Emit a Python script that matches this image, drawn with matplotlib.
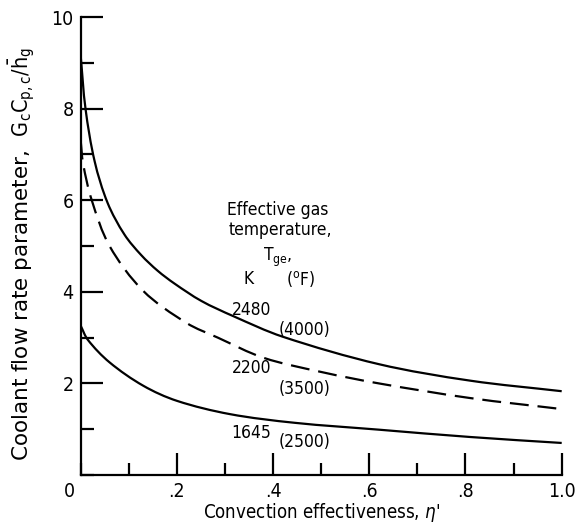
import matplotlib
matplotlib.use("Agg")
import matplotlib.pyplot as plt
import numpy as np
from matplotlib.path import Path
from matplotlib.patches import PathPatch
from matplotlib.ticker import MultipleLocator, FixedLocator

plt.rcParams['font.family'] = ['DejaVu Sans']
plt.rcParams['font.stretch'] = 'condensed'
plt.rcParams['mathtext.fontset'] = 'custom'
plt.rcParams['mathtext.rm'] = 'DejaVu Sans:stretch=condensed'
plt.rcParams['mathtext.it'] = 'DejaVu Sans:italic:stretch=condensed'

# Coolant flow rate parameter vs convection effectiveness, per gas temperature
eta_2480 = [0.0, 0.01, 0.029, 0.056, 0.091, 0.126, 0.16, 0.195, 0.251, 0.317,
            0.42, 0.62, 0.81, 1.0]
g_2480 = [9.15, 8.0, 6.85, 5.94, 5.25, 4.80, 4.46, 4.18, 3.80, 3.47,
          3.02, 2.42, 2.06, 1.83]

eta_2200 = [0.0, 0.005, 0.023, 0.06, 0.13, 0.22, 0.285, 0.38, 0.5,
            0.62, 0.81, 1.0]
g_2200 = [7.3, 6.8, 6.0, 5.0, 4.02, 3.32, 3.0, 2.56, 2.25,
          2.0, 1.68, 1.44]

eta_1645 = [0.0, 0.015, 0.06, 0.13, 0.2, 0.31, 0.445, 0.62, 0.81, 1.0]
g_1645 = [3.26, 2.95, 2.46, 1.95, 1.62, 1.33, 1.14, 0.99, 0.83, 0.70]

temps_k = ['2480', '2200', '1645']
temps_f = ['(4000)', '(3500)', '(2500)']

x_ticks = [0.2, 0.4, 0.6, 0.8, 1.0]
x_ticklabels = ['.2', '.4', '.6', '.8', '1.0']
y_ticks = [2, 4, 6, 8, 10]
y_ticklabels = ['2', '4', '6', '8', '10']


def smooth_curve(ax, xs, ys, **kw):
    """Draw a smooth bezier curve through the given points (in data units)."""
    p = ax.transData.transform(np.column_stack([xs, ys]))
    t = np.concatenate([[0], np.cumsum(np.hypot(*np.diff(p, axis=0).T))])
    n = len(p)
    m = np.zeros_like(p)
    for i in range(n):
        a, b = max(i - 1, 0), min(i + 1, n - 1)
        m[i] = (p[b] - p[a]) / (t[b] - t[a])
    verts = [p[0]]
    codes = [Path.MOVETO]
    for i in range(n - 1):
        h = (t[i + 1] - t[i]) / 3.0
        verts += [p[i] + m[i] * h, p[i + 1] - m[i + 1] * h, p[i + 1]]
        codes += [Path.CURVE4] * 3
    verts = ax.transData.inverted().transform(np.array(verts))
    patch = PathPatch(Path(verts, codes), fill=False, transform=ax.transData, **kw)
    ax.add_patch(patch)


fig = plt.figure(figsize=(5.78, 5.25), dpi=100)
ax = fig.add_axes([0.1396, 0.0952, 0.8322, 0.8724])
ax.set_xlim(0, 1.0)
ax.set_ylim(0, 10)

smooth_curve(ax, eta_2480, g_2480, edgecolor='black', lw=1.6)
smooth_curve(ax, eta_2200, g_2200, edgecolor='black', lw=1.6, linestyle=(0, (8.5, 4)))
smooth_curve(ax, eta_1645, g_1645, edgecolor='black', lw=1.6)

for s in ['top', 'right']:
    ax.spines[s].set_visible(False)
for s in ['left', 'bottom']:
    ax.spines[s].set_linewidth(1.6)

ax.xaxis.set_major_locator(FixedLocator(x_ticks))
ax.set_xticklabels(x_ticklabels)
ax.xaxis.set_minor_locator(MultipleLocator(0.1))
ax.yaxis.set_major_locator(FixedLocator(y_ticks))
ax.set_yticklabels(y_ticklabels)
ax.yaxis.set_minor_locator(MultipleLocator(1))
ax.tick_params(which='major', direction='in', length=16, width=1.6, labelsize=14, pad=5)
ax.tick_params(which='minor', direction='in', length=9, width=1.6)

# shared origin label
ax.annotate('0', (0, 0), xytext=(-8, -12), textcoords='offset points',
            ha='center', va='center', fontsize=14)

ax.set_xlabel("Convection effectiveness, $\\it{\\eta}$'", fontsize=13.4, labelpad=0)
ax.set_ylabel('Coolant flow rate parameter,  $\\mathrm{G_cC_{p,c}/\\bar{h}_g}$',
              fontsize=15.5, fontstretch='normal')
ax.yaxis.set_label_coords(-0.088, 0.482)

# curve labels
fs = 12.5
ax.text(0.41, 5.79, 'Effective gas', ha='center', va='center', fontsize=fs)
ax.text(0.415, 5.35, 'temperature,', ha='center', va='center', fontsize=fs)
ax.text(0.41, 4.76, '$\\mathrm{T_{ge}}$,', ha='center', va='center', fontsize=fs)
ax.text(0.348, 4.28, 'K', ha='center', va='center', fontsize=fs)
ax.text(0.458, 4.28, '($\\mathrm{^{o}}$F)', ha='center', va='center', fontsize=fs)

k_pos = [3.60, 2.34, 0.92]
f_pos = [3.17, 1.88, 0.72]
for k, f, yk, yf in zip(temps_k, temps_f, k_pos, f_pos):
    ax.text(0.355, yk, k, ha='center', va='center', fontsize=fs)
    ax.text(0.466, yf, f, ha='center', va='center', fontsize=fs)

fig.savefig('out.png', dpi=100)
